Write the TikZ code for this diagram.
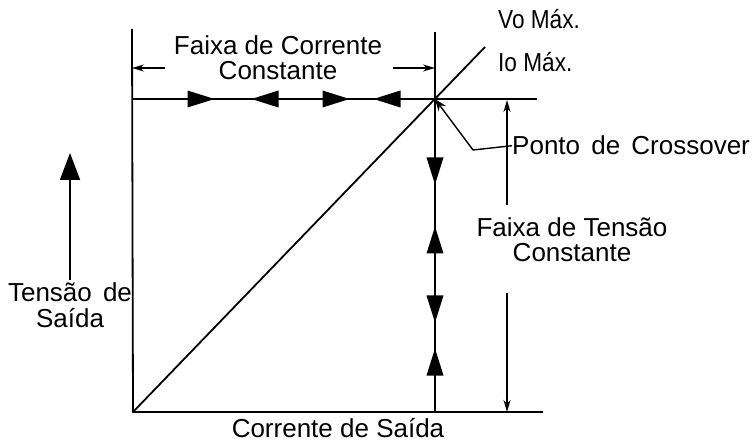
\documentclass[tikz,border=0pt]{standalone}
\usepackage{fontspec}
\setmainfont{Liberation Sans}
\newfontfamily\condfont[FakeStretch=0.87]{Liberation Sans}
\newfontfamily\widefont[WordSpace=1.55]{Liberation Sans}
\usetikzlibrary{arrows.meta}
\begin{document}
\begin{tikzpicture}[x=1pt,y=-1pt,
  axis/.style={line width=1.8pt},
  dimline/.style={line width=1.4pt},
  lbl/.style={inner sep=0pt, font=\fontsize{26}{25}\selectfont, align=center},
  widelbl/.style={inner sep=0pt, font=\widefont\fontsize{26}{26}\selectfont, align=center},
  smalllbl/.style={inner sep=0pt, font=\condfont\fontsize{26}{25}\selectfont, anchor=base west},
  dimtip/.style={-{Stealth[length=12pt,width=7pt]}},
  flowtri/.pic={\fill (-13.5,-8.5) -- (13.5,0) -- (-13.5,8.5) -- cycle;}
]
\useasboundingbox (0,0) rectangle (752,443);
% frame coordinates
\coordinate (O) at (133,412);
\coordinate (Ltop) at (132,29);
\coordinate (X) at (435,99);
\coordinate (Xtop) at (435,32);
\coordinate (Xbot) at (435,412);
\coordinate (Hleft) at (132,99);
\coordinate (Hright) at (537,99);
\coordinate (Bright) at (543,412);
\coordinate (Dend) at (485,47);
% axes and lines
\draw[axis] (Ltop) -- (O) -- (Bright);
\draw[axis] (Hleft) -- (Hright);
\draw[axis] (Xtop) -- (Xbot);
\draw[axis] (O) -- (Dend);
% flow triangles
\pic at (201,99) {flowtri};
\pic[rotate=180] at (265,99) {flowtri};
\pic at (336,99) {flowtri};
\pic[rotate=180] at (387,99) {flowtri};
\pic[rotate=-90] at (435,171) {flowtri};
\pic[rotate=90] at (435,240) {flowtri};
\pic[rotate=-90] at (435,309) {flowtri};
\pic[rotate=90] at (435,362) {flowtri};
% current range dimension
\coordinate (cl1) at (165,68);
\coordinate (cl2) at (132,68);
\coordinate (cr1) at (393,68);
\coordinate (cr2) at (435,68);
\draw[dimline,dimtip] (cl1) -- (cl2);
\draw[dimline,dimtip] (cr1) -- (cr2);
% voltage range dimension
\coordinate (vt1) at (507,205);
\coordinate (vt2) at (507,100);
\coordinate (vb1) at (507,293);
\coordinate (vb2) at (507,412);
\draw[dimline,dimtip] (vt1) -- (vt2);
\draw[dimline,dimtip] (vb1) -- (vb2);
% output voltage arrow
\coordinate (ua1) at (70,280);
\coordinate (ua2) at (70,153);
\draw[axis,-{Triangle[length=27pt,width=20pt]}] (ua1) -- (ua2);
% labels
\node[lbl] (fcc) at (278,58) {Faixa de Corrente\\Constante};
\node[lbl] (ftc) at (572,240) {Faixa de Tensão\\Constante};
\node[widelbl] (ts) at (70,305) {Tensão de\\Saída};
\node[lbl,anchor=base] (cs) at (338,437) {Corrente de Saída};
\node[widelbl,anchor=base west] (pc) at (512,155) {Ponto de Crossover};
\node[smalllbl] (vo) at (498,29) {Vo Máx.};
\node[smalllbl] (io) at (498,72) {Io Máx.};
% crossover leader
\coordinate (lk) at (473,150);
\draw[dimline,-{Stealth[length=12pt,width=9pt]}] (pc.west) -- (lk) -- (X);
\end{tikzpicture}
\end{document}
